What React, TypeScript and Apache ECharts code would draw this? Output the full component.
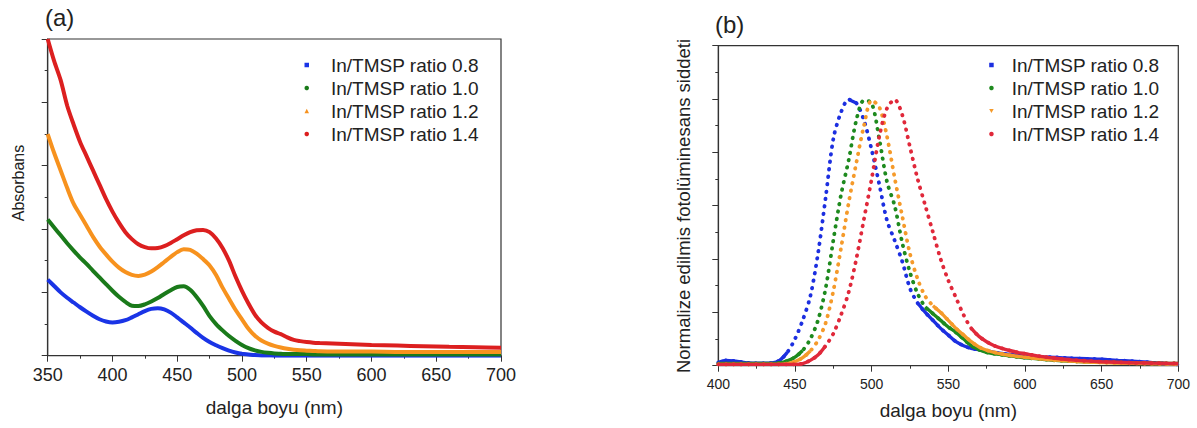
import React, { useEffect, useRef } from "react";
import * as echarts from "echarts";

const SERIES_NAMES = ["In/TMSP ratio 0.8", "In/TMSP ratio 1.0", "In/TMSP ratio 1.2", "In/TMSP ratio 1.4"];
const LEFT_COLORS = ["#1a34e6", "#1a7a1a", "#f7921e", "#dc1f1f"];
const RIGHT_COLORS = ["#1c2fe0", "#1e8a1e", "#f59a2a", "#e0283a"];

// Panel (a): absorbance (arbitrary units, axis 0..1)
const NM_A = [350, 355, 360, 365, 370, 375, 380, 385, 390, 395, 400, 405, 410, 415, 420, 425, 430, 435, 440, 445, 450, 455, 460, 465, 470, 475, 480, 485, 490, 495, 500, 505, 510, 515, 520, 525, 530, 535, 540, 545, 550, 555, 560, 580, 600, 620, 640, 660, 680, 700];
const ABS_08 = [0.24, 0.22, 0.2, 0.183, 0.168, 0.153, 0.139, 0.126, 0.115, 0.108, 0.105, 0.107, 0.112, 0.121, 0.131, 0.141, 0.148, 0.15, 0.146, 0.136, 0.121, 0.105, 0.089, 0.072, 0.056, 0.043, 0.033, 0.024, 0.016, 0.01, 0.006, 0.004, 0.002, 0.001, 0.001, 0, 0, 0, 0, 0, 0, 0, 0, 0, 0, 0, 0, 0, 0, 0];
const ABS_10 = [0.43, 0.405, 0.38, 0.355, 0.332, 0.31, 0.29, 0.268, 0.247, 0.226, 0.205, 0.186, 0.17, 0.158, 0.157, 0.162, 0.171, 0.182, 0.195, 0.207, 0.217, 0.219, 0.208, 0.185, 0.157, 0.125, 0.1, 0.08, 0.062, 0.047, 0.034, 0.024, 0.017, 0.012, 0.009, 0.007, 0.006, 0.005, 0.005, 0.005, 0.005, 0.004, 0.004, 0.004, 0.004, 0.004, 0.004, 0.004, 0.004, 0.004];
const ABS_12 = [0.7, 0.64, 0.585, 0.53, 0.48, 0.445, 0.41, 0.375, 0.345, 0.32, 0.297, 0.278, 0.264, 0.255, 0.252, 0.256, 0.266, 0.28, 0.296, 0.312, 0.327, 0.336, 0.334, 0.322, 0.305, 0.285, 0.255, 0.215, 0.18, 0.145, 0.115, 0.085, 0.063, 0.048, 0.038, 0.031, 0.026, 0.022, 0.019, 0.017, 0.016, 0.015, 0.014, 0.013, 0.013, 0.012, 0.012, 0.012, 0.012, 0.012];
const ABS_14 = [1.0, 0.93, 0.87, 0.79, 0.73, 0.675, 0.63, 0.585, 0.54, 0.495, 0.455, 0.42, 0.39, 0.368, 0.352, 0.343, 0.339, 0.34, 0.346, 0.356, 0.368, 0.38, 0.39, 0.396, 0.397, 0.39, 0.37, 0.34, 0.3, 0.25, 0.205, 0.165, 0.13, 0.105, 0.088, 0.076, 0.068, 0.058, 0.05, 0.046, 0.043, 0.041, 0.04, 0.037, 0.034, 0.032, 0.03, 0.028, 0.027, 0.025];

// Panel (b): normalized PL intensity
const NM_B = [400, 405, 410, 415, 420, 425, 430, 435, 440, 445, 450, 455, 460, 465, 470, 475, 480, 485, 490, 495, 500, 505, 510, 515, 520, 525, 530, 535, 540, 545, 550, 555, 560, 565, 570, 575, 580, 585, 590, 595, 600, 610, 620, 630, 640, 650, 660, 670, 680, 690, 700];
const PL_08 = [0.012, 0.02, 0.018, 0.014, 0.01, 0.009, 0.009, 0.01, 0.02, 0.05, 0.1, 0.17, 0.26, 0.42, 0.63, 0.85, 0.95, 0.998, 0.985, 0.92, 0.81, 0.68, 0.545, 0.47, 0.39, 0.29, 0.235, 0.2, 0.17, 0.14, 0.115, 0.09, 0.075, 0.065, 0.06, 0.055, 0.05, 0.046, 0.042, 0.039, 0.036, 0.033, 0.031, 0.028, 0.026, 0.024, 0.02, 0.017, 0.013, 0.008, 0.005];
const PL_10 = [0.008, 0.008, 0.008, 0.008, 0.008, 0.008, 0.008, 0.008, 0.01, 0.018, 0.032, 0.057, 0.1, 0.17, 0.29, 0.47, 0.64, 0.77, 0.92, 0.995, 0.985, 0.85, 0.69, 0.6, 0.46, 0.35, 0.27, 0.22, 0.195, 0.17, 0.145, 0.125, 0.1, 0.075, 0.06, 0.05, 0.045, 0.041, 0.037, 0.033, 0.03, 0.025, 0.02, 0.017, 0.015, 0.013, 0.012, 0.011, 0.01, 0.009, 0.008];
const PL_12 = [0.005, 0.005, 0.005, 0.005, 0.005, 0.005, 0.005, 0.005, 0.005, 0.008, 0.015, 0.03, 0.055, 0.095, 0.16, 0.28, 0.44, 0.61, 0.76, 0.9, 0.995, 0.97, 0.86, 0.705, 0.56, 0.42, 0.325, 0.26, 0.225, 0.2, 0.17, 0.14, 0.115, 0.09, 0.07, 0.058, 0.05, 0.044, 0.039, 0.035, 0.032, 0.026, 0.021, 0.017, 0.014, 0.012, 0.01, 0.009, 0.008, 0.007, 0.006];
const PL_14 = [0.005, 0.005, 0.005, 0.005, 0.005, 0.005, 0.005, 0.005, 0.005, 0.005, 0.005, 0.008, 0.02, 0.04, 0.075, 0.12, 0.19, 0.275, 0.4, 0.55, 0.7, 0.86, 0.965, 0.998, 0.94, 0.82, 0.7, 0.6, 0.5, 0.4, 0.32, 0.255, 0.19, 0.14, 0.11, 0.09, 0.075, 0.065, 0.057, 0.05, 0.045, 0.035, 0.028, 0.022, 0.018, 0.015, 0.013, 0.011, 0.01, 0.009, 0.008];

const ABS = [ABS_08, ABS_10, ABS_12, ABS_14];
const PL = [PL_08, PL_10, PL_12, PL_14];

const FONT = "'Liberation Sans', Arial, sans-serif";
const AXIS_COLOR = "#333";

// Where the measured markers sit close together (gentle slope), they merge into a solid trace.
function flatParts(xs: number[], ys: number[], thr: number) {
  return xs.map((x, k) => {
    const s1 = k > 0 ? Math.abs((ys[k] - ys[k - 1]) / (x - xs[k - 1])) : 0;
    const s2 = k < xs.length - 1 ? Math.abs((ys[k + 1] - ys[k]) / (xs[k + 1] - x)) : 0;
    return Math.max(s1, s2) < thr ? [x, ys[k]] : [x, "-"];
  });
}

function xAxisCfg(gridIndex: number, min: number, max: number, fontSize: number, margin: number, nameGap: number) {
  return {
    type: "value",
    gridIndex,
    min,
    max,
    interval: 50,
    name: "dalga boyu (nm)",
    nameLocation: "middle",
    nameGap,
    nameTextStyle: { fontFamily: FONT, fontSize: 19, color: "#222" },
    axisLine: { show: true, onZero: false, lineStyle: { color: AXIS_COLOR, width: 1.2 } },
    axisTick: { show: true, inside: false, length: 6, lineStyle: { color: AXIS_COLOR } },
    minorTick: { show: true, splitNumber: 2, length: 3, lineStyle: { color: AXIS_COLOR } },
    splitLine: { show: false },
    minorSplitLine: { show: false },
    axisLabel: { fontFamily: FONT, fontSize, color: "#222", margin, showMinLabel: true, showMaxLabel: true },
  };
}

function yAxisCfg(gridIndex: number, max: number) {
  return {
    type: "value",
    gridIndex,
    min: 0,
    max,
    interval: 0.2,
    axisLine: { show: true, onZero: false, lineStyle: { color: AXIS_COLOR, width: 1.2 } },
    axisTick: { show: true, inside: false, length: 6, lineStyle: { color: AXIS_COLOR } },
    minorTick: { show: true, splitNumber: 2, length: 3, lineStyle: { color: AXIS_COLOR } },
    splitLine: { show: false },
    minorSplitLine: { show: false },
    axisLabel: { show: false },
  };
}

export default function App() {
  const ref = useRef<HTMLDivElement>(null);
  useEffect(() => {
    document.body.style.margin = "0";
    if (!ref.current) return;
    const chart = echarts.init(ref.current, null, { renderer: "svg" });
    const seriesA = SERIES_NAMES.map((name, i) => ({
      name,
      type: "line",
      xAxisIndex: 0,
      yAxisIndex: 0,
      data: NM_A.map((x, k) => [x, ABS[i][k]]),
      showSymbol: false,
      smooth: 0.3,
      clip: true,
      color: LEFT_COLORS[i],
      lineStyle: { width: 4, color: LEFT_COLORS[i] },
      z: 2 + i,
    }));
    const seriesB: any[] = [];
    SERIES_NAMES.forEach((name, i) => {
      seriesB.push({
        name,
        type: "line",
        xAxisIndex: 1,
        yAxisIndex: 1,
        data: NM_B.map((x, k) => [x, PL[i][k]]),
        showSymbol: false,
        smooth: 0.3,
        clip: true,
        color: RIGHT_COLORS[i],
        lineStyle: { width: 3.8, color: RIGHT_COLORS[i], type: [0.5, 7], cap: "round" },
        z: 2 + i,
      });
      seriesB.push({
        name,
        type: "line",
        xAxisIndex: 1,
        yAxisIndex: 1,
        data: flatParts(NM_B, PL[i], 0.013),
        connectNulls: false,
        showSymbol: false,
        smooth: 0.3,
        clip: true,
        color: RIGHT_COLORS[i],
        lineStyle: { width: 3.4, color: RIGHT_COLORS[i] },
        z: 2 + i,
      });
    });
    const legendIconsA = ["rect", "circle", "triangle", "circle"];
    const legendIconsB = ["rect", "circle", "path://M0,0L10,0L5,9Z", "circle"];
    chart.setOption({
      animation: false,
      backgroundColor: "#fff",
      grid: [
        { left: 47.7, top: 39, width: 453.3, height: 316.7, show: true, borderColor: AXIS_COLOR, borderWidth: 1.2, backgroundColor: "transparent" },
        { left: 718.3, top: 45.7, width: 460, height: 320, show: true, borderColor: AXIS_COLOR, borderWidth: 1.2, backgroundColor: "transparent" },
      ],
      xAxis: [xAxisCfg(0, 350, 700, 18, 10, 42), xAxisCfg(1, 400, 700, 14, 11, 35)],
      yAxis: [yAxisCfg(0, 1), yAxisCfg(1, 1.2)],
      legend: [
        {
          left: 299.5,
          top: 48.5,
          orient: "vertical",
          itemWidth: 4.5,
          itemHeight: 4.5,
          itemGap: 0,
          selectedMode: false,
          data: SERIES_NAMES.map((n, i) => ({ name: n, icon: legendIconsA[i], itemStyle: { color: LEFT_COLORS[i] } })),
          textStyle: { fontFamily: FONT, fontSize: 19, color: "#222", lineHeight: 23, padding: [0, 0, 0, 17] },
        },
        {
          left: 984.2,
          top: 48.5,
          orient: "vertical",
          itemWidth: 4.5,
          itemHeight: 4.5,
          itemGap: 0,
          selectedMode: false,
          data: SERIES_NAMES.map((n, i) => ({ name: n, icon: legendIconsB[i], itemStyle: { color: RIGHT_COLORS[i] } })),
          textStyle: { fontFamily: FONT, fontSize: 19, color: "#222", lineHeight: 23, padding: [0, 0, 0, 13] },
        },
      ],
      graphic: [
        { type: "text", x: 45, y: 17, style: { text: "(a)", fontFamily: FONT, fontSize: 24, fill: "#222", textVerticalAlign: "middle" } },
        { type: "text", x: 715, y: 24, style: { text: "(b)", fontFamily: FONT, fontSize: 24, fill: "#222", textVerticalAlign: "middle" } },
        { type: "text", x: 18, y: 183, rotation: Math.PI / 2, style: { text: "Absorbans", fontFamily: FONT, fontSize: 16, fill: "#222", textAlign: "center", textVerticalAlign: "middle" } },
        { type: "text", x: 683, y: 206, rotation: Math.PI / 2, style: { text: "Normalize edilmis fotolüminesans siddeti", fontFamily: FONT, fontSize: 18.5, fill: "#222", textAlign: "center", textVerticalAlign: "middle" } },
      ],
      series: [...seriesA, ...seriesB],
    });
    return () => chart.dispose();
  }, []);
  return <div ref={ref} style={{ width: 1197, height: 428 }} />;
}
